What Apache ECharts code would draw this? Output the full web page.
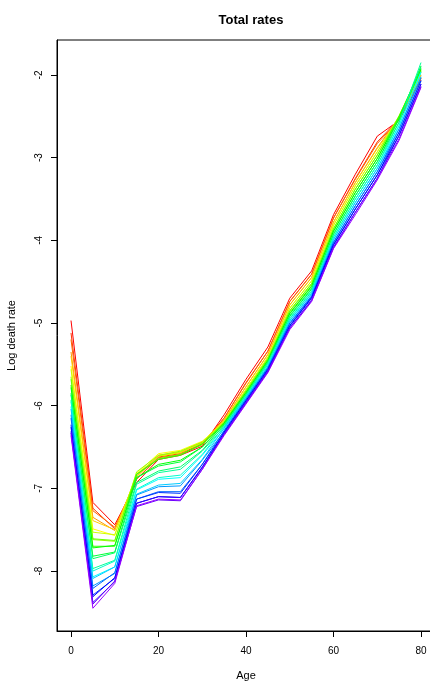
<!DOCTYPE html>
<html>
<head>
<meta charset="utf-8">
<script src="https://cdn.jsdelivr.net/npm/echarts@6/dist/echarts.min.js"></script>
<style>
  html, body { margin: 0; padding: 0; background: #fff; }
  #chart { width: 430px; height: 681px; }
</style>
</head>
<body>
<div id="chart"></div>
<script>
// ages (5-year groups)
var ages = [0, 5, 10, 15, 20, 25, 30, 35, 40, 45, 50, 55, 60, 65, 70, 75, 80];
var xTicks = [0, 20, 40, 60, 80];
var yTicks = [-8, -7, -6, -5, -4, -3, -2];

// log death rate, one array per age, oldest year (red) first
var at0  = [-4.97, -5.12, -5.20, -5.35, -5.40, -5.52, -5.56, -5.65, -5.68, -5.75, -5.78, -5.85, -5.87, -5.93, -5.95, -6.01, -6.04, -6.11, -6.15, -6.23, -6.26, -6.31, -6.33, -6.36];
var at5  = [-7.17, -7.24, -7.27, -7.35, -7.39, -7.49, -7.53, -7.62, -7.61, -7.70, -7.72, -7.82, -7.85, -7.97, -8.00, -8.07, -8.09, -8.18, -8.21, -8.29, -8.31, -8.38, -8.40, -8.45];
var at10 = [-7.44, -7.49, -7.47, -7.51, -7.50, -7.57, -7.56, -7.64, -7.63, -7.70, -7.69, -7.77, -7.78, -7.87, -7.88, -7.95, -7.95, -8.03, -8.02, -8.09, -8.08, -8.13, -8.12, -8.15];
var at15 = [-6.93, -6.89, -6.89, -6.85, -6.86, -6.82, -6.83, -6.80, -6.83, -6.83, -6.87, -6.87, -6.93, -6.95, -7.01, -7.02, -7.07, -7.08, -7.13, -7.13, -7.18, -7.18, -7.22, -7.21];
var at20 = [-6.65, -6.62, -6.63, -6.60, -6.61, -6.58, -6.61, -6.60, -6.64, -6.65, -6.71, -6.73, -6.79, -6.81, -6.87, -6.89, -6.96, -6.98, -7.04, -7.05, -7.10, -7.10, -7.14, -7.13];
var at25 = [-6.60, -6.58, -6.59, -6.56, -6.57, -6.54, -6.56, -6.55, -6.59, -6.60, -6.66, -6.68, -6.74, -6.77, -6.84, -6.87, -6.94, -6.97, -7.04, -7.06, -7.11, -7.11, -7.15, -7.14];
var at30 = [-6.49, -6.46, -6.47, -6.44, -6.45, -6.43, -6.45, -6.44, -6.47, -6.46, -6.50, -6.50, -6.54, -6.55, -6.59, -6.60, -6.65, -6.66, -6.71, -6.71, -6.75, -6.74, -6.77, -6.77];
var at35 = [-6.11, -6.15, -6.15, -6.18, -6.17, -6.20, -6.19, -6.21, -6.20, -6.22, -6.21, -6.24, -6.23, -6.26, -6.25, -6.28, -6.27, -6.31, -6.30, -6.33, -6.32, -6.35, -6.34, -6.36];
var at40 = [-5.68, -5.72, -5.73, -5.77, -5.77, -5.81, -5.80, -5.83, -5.82, -5.85, -5.84, -5.87, -5.86, -5.89, -5.88, -5.91, -5.90, -5.93, -5.92, -5.95, -5.94, -5.97, -5.96, -5.98];
var at45 = [-5.29, -5.34, -5.34, -5.38, -5.38, -5.42, -5.41, -5.44, -5.43, -5.46, -5.45, -5.48, -5.47, -5.50, -5.49, -5.53, -5.52, -5.55, -5.54, -5.57, -5.56, -5.59, -5.58, -5.60];
var at50 = [-4.70, -4.74, -4.74, -4.78, -4.78, -4.82, -4.82, -4.86, -4.85, -4.89, -4.88, -4.92, -4.91, -4.95, -4.94, -4.98, -4.97, -5.01, -5.00, -5.04, -5.03, -5.06, -5.06, -5.08];
var at55 = [-4.37, -4.41, -4.41, -4.45, -4.45, -4.49, -4.49, -4.53, -4.52, -4.56, -4.55, -4.59, -4.58, -4.62, -4.61, -4.65, -4.64, -4.68, -4.67, -4.70, -4.69, -4.73, -4.72, -4.74];
var at60 = [-3.69, -3.73, -3.73, -3.78, -3.78, -3.82, -3.82, -3.86, -3.86, -3.89, -3.89, -3.93, -3.92, -3.96, -3.96, -3.99, -3.99, -4.03, -4.02, -4.06, -4.05, -4.09, -4.08, -4.10];
var at65 = [-3.20, -3.25, -3.26, -3.30, -3.30, -3.34, -3.34, -3.38, -3.38, -3.42, -3.42, -3.46, -3.46, -3.50, -3.50, -3.54, -3.54, -3.58, -3.58, -3.62, -3.62, -3.66, -3.66, -3.69];
var at70 = [-2.74, -2.81, -2.83, -2.88, -2.89, -2.93, -2.93, -2.97, -2.97, -3.01, -3.01, -3.05, -3.05, -3.09, -3.09, -3.13, -3.13, -3.17, -3.17, -3.21, -3.21, -3.25, -3.25, -3.27];
var at75 = [-2.55, -2.53, -2.54, -2.51, -2.53, -2.50, -2.51, -2.49, -2.51, -2.50, -2.53, -2.53, -2.57, -2.57, -2.61, -2.61, -2.65, -2.65, -2.69, -2.69, -2.73, -2.73, -2.77, -2.79];
var at80 = [-2.06, -2.04, -2.04, -2.00, -2.00, -1.96, -1.97, -1.94, -1.95, -1.92, -1.93, -1.89, -1.90, -1.85, -1.96, -1.97, -2.02, -2.03, -2.07, -2.07, -2.11, -2.11, -2.14, -2.15];

var byAge = [at0, at5, at10, at15, at20, at25, at30, at35, at40, at45, at50, at55, at60, at65, at70, at75, at80];
var nCurves = at0.length;

// same as R rainbow(n * 1.25)
function rainbow(i) {
  var h = i / (nCurves * 1.25) * 6;
  var k = Math.floor(h), f = h - k, q = 1 - f;
  var c = [[1, f, 0], [q, 1, 0], [0, 1, f], [0, q, 1], [f, 0, 1], [1, 0, q]][k % 6];
  return 'rgb(' + c.map(function (v) { return Math.round(v * 255); }).join(',') + ')';
}

var series = [];
for (var i = 0; i < nCurves; i++) {
  series.push({
    type: 'line',
    symbol: 'none',
    silent: true,
    lineStyle: { width: 1, color: rainbow(i) },
    data: ages.map(function (a, j) { return [a, byAge[j][i]]; })
  });
}

var chart = echarts.init(document.getElementById('chart'));
var font = 'Liberation Sans, Arial, sans-serif';

chart.setOption({
  animation: false,
  backgroundColor: '#fff',
  title: {
    text: 'Total rates',
    left: 246,
    top: 9,
    textAlign: 'center',
    textStyle: { fontFamily: font, fontSize: 13, fontWeight: 'bold', color: '#000' }
  },
  grid: {
    left: 57, top: 40, width: 378, height: 591,
    outerBoundsMode: 'none',
    containLabel: false,
    show: true, borderColor: '#000', borderWidth: 1
  },
  xAxis: {
    type: 'value',
    min: -3.2, max: 83.2,
    name: 'Age',
    nameLocation: 'middle',
    nameGap: 39,
    nameTextStyle: { fontFamily: font, fontSize: 11, color: '#000' },
    axisLine: { show: true, onZero: false, lineStyle: { color: '#000' } },
    axisTick: { show: true, length: 6, customValues: xTicks, lineStyle: { color: '#000' } },
    axisLabel: { customValues: xTicks, margin: 15, fontFamily: font, fontSize: 10, color: '#000' },
    splitLine: { show: false }
  },
  yAxis: {
    type: 'value',
    min: -8.725, max: -1.577,
    name: 'Log death rate',
    nameLocation: 'middle',
    nameRotate: 90,
    nameGap: 40,
    nameTextStyle: { fontFamily: font, fontSize: 11, color: '#000' },
    axisLine: { show: true, onZero: false, lineStyle: { color: '#000' } },
    axisTick: { show: true, length: 6, customValues: yTicks, lineStyle: { color: '#000' } },
    axisLabel: { customValues: yTicks, rotate: 90, margin: 13, fontFamily: font, fontSize: 10, color: '#000' },
    splitLine: { show: false }
  },
  series: series
});
</script>
</body>
</html>
